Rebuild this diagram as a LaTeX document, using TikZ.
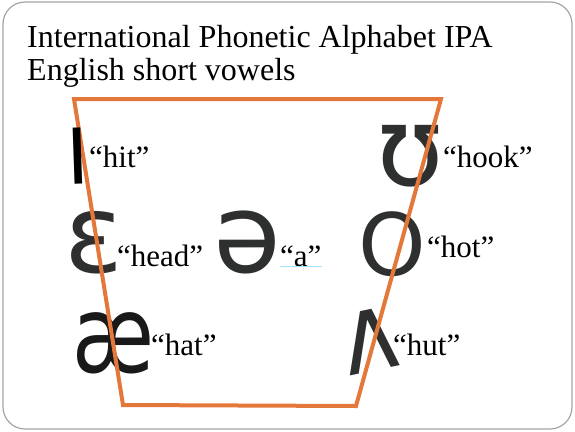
\documentclass[tikz,border=0pt]{standalone}
\usepackage{fontspec}
\setmainfont{Liberation Serif}
\newfontfamily\ipafont{DejaVu Sans}
\definecolor{ipaorange}{RGB}{228,120,58}
\definecolor{ipadark}{RGB}{46,48,47}
\definecolor{framegray}{RGB}{165,165,165}
\tikzset{
  ipa/.style={inner sep=0pt,text=ipadark,font=\ipafont\fontsize{#1pt}{#1pt}\selectfont},
  word/.style={inner sep=0pt,anchor=base west,font=\fontsize{31pt}{31pt}\selectfont},
  heading/.style={inner sep=0pt,anchor=base west,font=\fontsize{32pt}{32pt}\selectfont},
}

\begin{document}
\begin{tikzpicture}[x=1pt,y=-1pt]
      \useasboundingbox (0,0) rectangle (575,431);
      \draw[framegray,line width=1.2pt,rounded corners=22pt] (3,2) rectangle (572,429);
      \node[heading] (title1) at (27,47) {International Phonetic Alphabet IPA};
      \node[heading] (title2) at (27,80) {English short vowels};
      % vowel symbols
      \node[ipa=109] (ipaE) at (94,243) {ɛ};
      \node[ipa=110] (ipaSchwa) at (247,242) {ə};
      \node[ipa=110] (ipaU) at (410,156) {ʊ};
      \node[ipa=86] (ipaO) at (392,244) {O};
      \node[ipa=107,text=black!90,xscale=.78] (ipaAe) at (113,343) {æ};
      \node[ipa=112,xscale=.85,rotate=10] (ipaV) at (371,341) {ʌ};
      % example words
      \node[word] (hit) at (89,167) {“hit”};
      \node[word] (hook) at (443,167) {“hook”};
      \node[word] (head) at (117,266) {“head”};
      \node[word] (a) at (280,266) {“a”};
      \node[word] (hot) at (427,257) {“hot”};
      \node[word] (hat) at (151,355) {“hat”};
      \node[word] (hut) at (393,355) {“hut”};
      \draw[cyan!35,thin] (a.base west) -- (a.base east);
      % vowel trapezoid
      \coordinate (tl) at (74,99);
      \coordinate (tr) at (441,99);
      \coordinate (br) at (356,406);
      \coordinate (bl) at (123,405);
      \draw[ipaorange,line width=4pt] (tl) -- (tr) -- (br) -- (bl) -- cycle;
      \node[ipa=77,text=black,rotate=2] (ipaI) at (77.5,156) {I};
\end{tikzpicture}
\end{document}
